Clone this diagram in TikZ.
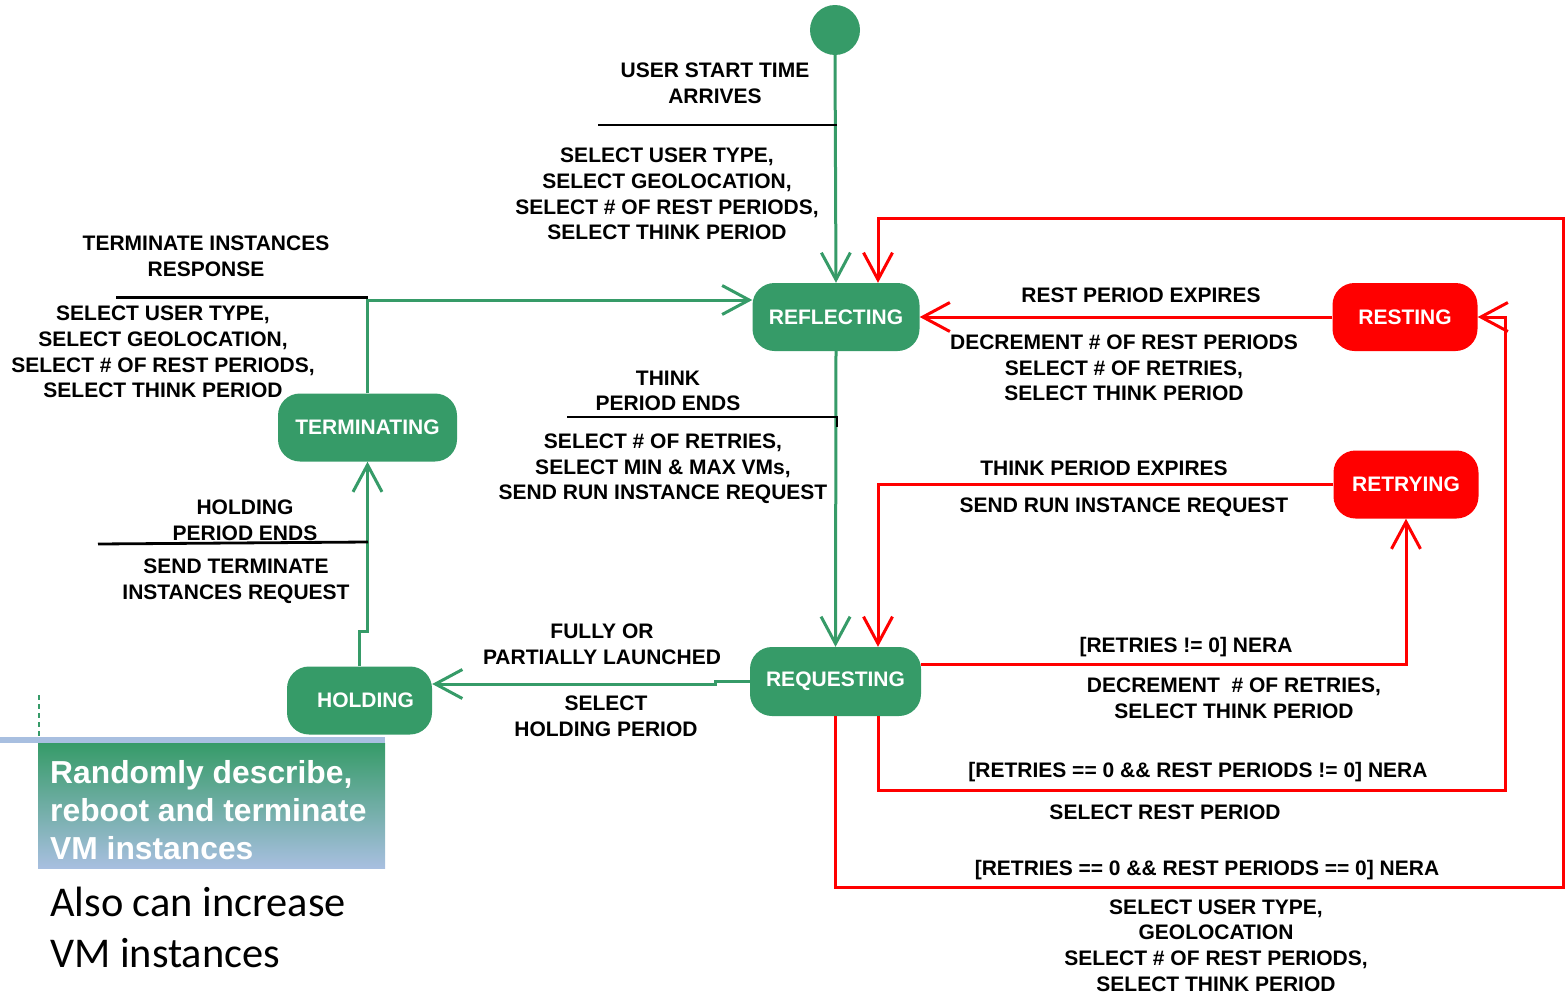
\documentclass[tikz,border=0pt]{standalone}
\usepackage{fontspec}
\setmainfont{Liberation Sans}
\newfontfamily\calibri{Carlito}
\usetikzlibrary{arrows.meta}
\definecolor{sgreen}{RGB}{54,155,104}
\definecolor{sred}{RGB}{255,0,0}
\definecolor{sblue}{RGB}{168,191,224}
\begin{document}
\begin{tikzpicture}[x=1pt,y=-1pt,
  state/.style={rounded corners=22pt, minimum height=68pt, inner sep=0pt, text=white, font=\fontsize{21}{25}\selectfont\bfseries},
  gstate/.style={state, fill=sgreen},
  rstate/.style={state, fill=sred},
  lbl/.style={align=center, inner sep=0pt, font=\fontsize{21}{25.7}\selectfont\bfseries},
  tip/.style={-{Straight Barb[length=27pt,width=29pt]}},
  gline/.style={draw=sgreen, line width=3pt, tip},
  rline/.style={draw=sred, line width=3pt, tip},
  rule/.style={draw=black, line width=2.8pt}]
\useasboundingbox (0,0) rectangle (1567,1001);

% states
\node[circle, fill=sgreen, minimum size=50pt, inner sep=0pt] (start) at (835,30) {};
\node[gstate, minimum width=167pt] (refl) at (836,317) {REFLECTING};
\node[rstate, minimum width=145pt] (rest) at (1405,317) {RESTING};
\node[rstate, minimum width=145pt] (retry) at (1406,484.5) {RETRYING};
\node[gstate, minimum width=171pt, minimum height=69pt] (req) at (835.5,681.5) {REQUESTING};
\node[gstate, minimum width=179pt] (term) at (367.5,427.5) {TERMINATING};
\node[gstate, minimum width=145pt] (hold) at (359.5,700.5) {\hspace*{12pt}HOLDING};

% green transitions
\draw[gline] (start.south) -- (refl.north);
\draw[gline] (term.north) |- ([yshift=17pt]refl.west);
\draw[gline] (refl.south) -- (req.north);
\draw[gline] (req.west) -- ++(-34,0) |- ([yshift=16.5pt]hold.east);
\draw[gline] (hold.north) -- ++(0,-35) -| (term.south);

% red transitions
\draw[rline] (rest.west) -- (refl.east);
\draw[rline] (retry.west) -| ([xshift=42.5pt]req.north);
\draw[rline] ([yshift=17.5pt]req.east) -| (retry.south);
\draw[rline] ([xshift=42.5pt]req.south) -- ++(0,74) -- ++(627,0) |- (rest.east);
\draw[rline] (req.south) -- ++(0,171) -- ++(727.5,0) -- ++(0,-669) -| ([xshift=42pt]refl.north);

% guard separators
\draw[rule] (598,125) -- (837,125);
\draw[rule] (116,297.5) -- (368,297.5);
\draw[rule] (567,417) -- (837,417) -- (837,427);
\draw[rule] (98,544) -- (368,542);

% labels
\node[lbl] (t1) at (715,83) {USER START TIME\\ARRIVES};
\node[lbl] (t2) at (667,194) {SELECT USER TYPE,\\SELECT GEOLOCATION,\\SELECT \# OF REST PERIODS,\\SELECT THINK PERIOD};
\node[lbl] (t3) at (206,256) {TERMINATE INSTANCES\\RESPONSE};
\node[lbl] (t4) at (163,352) {SELECT USER TYPE,\\SELECT GEOLOCATION,\\SELECT \# OF REST PERIODS,\\SELECT THINK PERIOD};
\node[lbl] (t5) at (668,391) {THINK\\PERIOD ENDS};
\node[lbl] (t6) at (663,469) {SELECT \# OF RETRIES,\\SELECT MIN \& MAX VMs,\\SEND RUN INSTANCE REQUEST};
\node[lbl] (t7) at (602,644) {FULLY OR\\PARTIALLY LAUNCHED};
\node[lbl] (t8) at (606,716) {SELECT\\HOLDING PERIOD};
\node[lbl] (t9) at (245,520) {HOLDING\\PERIOD ENDS};
\node[lbl] (t10) at (236,581) {SEND TERMINATE\\INSTANCES REQUEST};
\node[lbl] (t11) at (1141,295) {REST PERIOD EXPIRES};
\node[lbl] (t12) at (1124,368) {DECREMENT \# OF REST PERIODS\\SELECT \# OF RETRIES,\\SELECT THINK PERIOD};
\node[lbl] (t13) at (1104,468) {THINK PERIOD EXPIRES};
\node[lbl] (t14) at (1124,507) {SEND RUN INSTANCE REQUEST};
\node[lbl] (t15) at (1186,647) {[RETRIES != 0] NERA};
\node[lbl] (t16) at (1234,698) {DECREMENT\ \ \# OF RETRIES,\\SELECT THINK PERIOD};
\node[lbl] (t17) at (1198,772) {[RETRIES == 0 \&\& REST PERIODS != 0] NERA};
\node[lbl] (t18) at (1165,812) {SELECT REST PERIOD};
\node[lbl] (t19) at (1207,870) {[RETRIES == 0 \&\& REST PERIODS == 0] NERA};
\node[lbl] (t20) at (1216,945.5) {SELECT USER TYPE,\\GEOLOCATION\\SELECT \# OF REST PERIODS,\\SELECT THINK PERIOD};

% bottom-left panel
\draw[sgreen, line width=1.5pt, dash pattern=on 5pt off 4pt] (39,695) -- (39,737);
\fill[sblue] (0,737) rectangle (385,743);
\shade[top color=sgreen, bottom color=sblue] (38,743) rectangle (385,868);
\node[anchor=west, align=left, text=white, inner sep=0pt, font=\fontsize{31.8}{38}\selectfont\bfseries] (panel) at (50,810) {Randomly describe,\\reboot and terminate\\VM instances};
\node[anchor=west, align=left, inner sep=0pt, font=\calibri\fontsize{42.4}{51}\selectfont] (also) at (50,927) {Also can increase\\VM instances};
\end{tikzpicture}
\end{document}
